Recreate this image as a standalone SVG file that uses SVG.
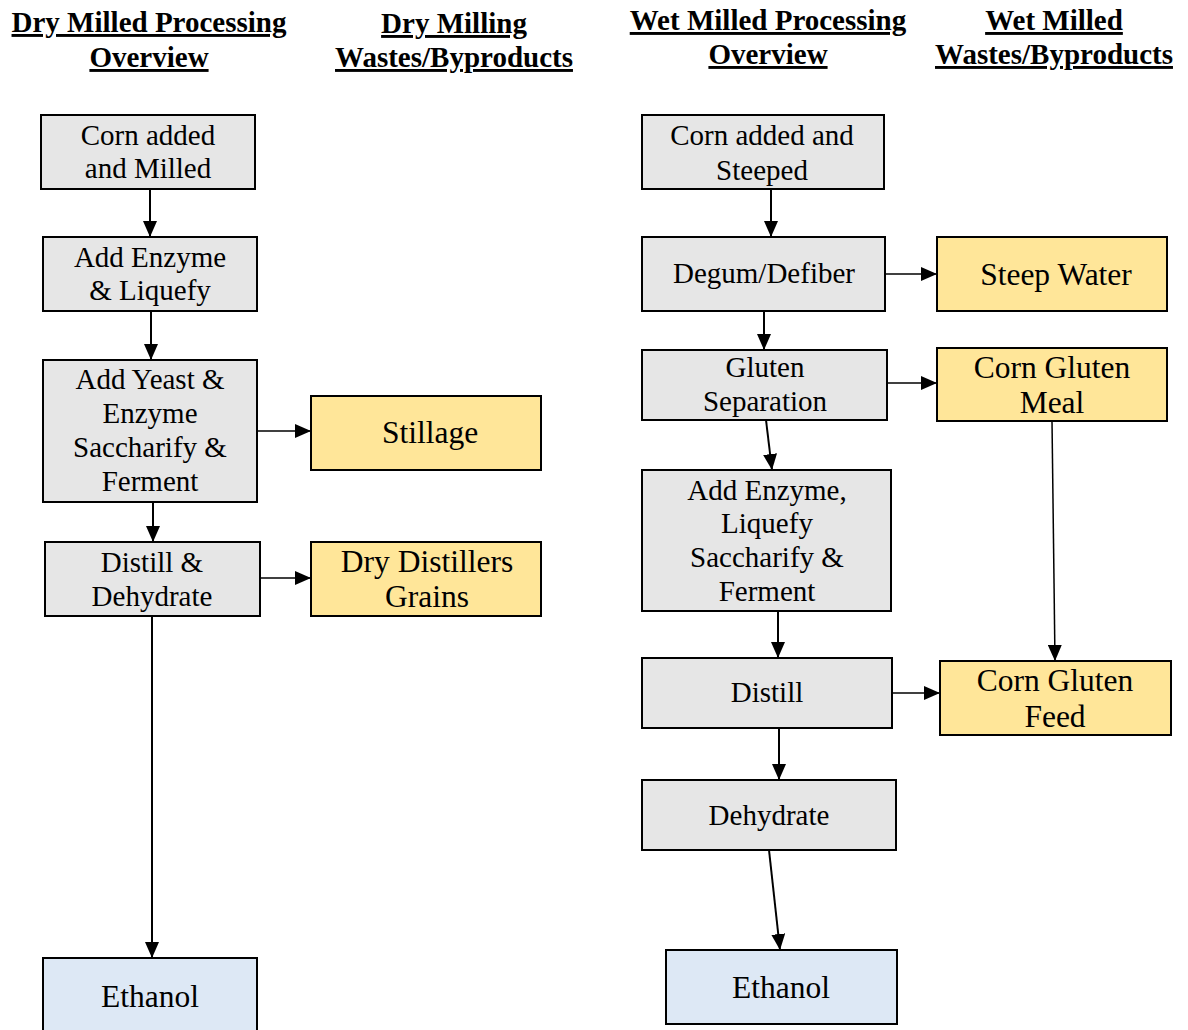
<svg xmlns="http://www.w3.org/2000/svg" width="1188" height="1030" viewBox="0 0 1188 1030">
<style>
  text { font-family: "Liberation Serif", "Times New Roman", serif; fill: #000; text-anchor: middle; }
  .h { font-size: 29px; font-weight: bold; text-decoration: underline; }
  .g { font-size: 29px; }
  .y { font-size: 31.5px; }
  .box { stroke: #000; stroke-width: 2; }
  .gray { fill: #e6e6e6; }
  .yel { fill: #ffe699; }
  .blue { fill: #dde8f5; }
  .c { stroke: #000; fill: none; marker-end: url(#ah); }
  .v { stroke-width: 2; }
  .hz { stroke-width: 1.5; }
</style>
<defs>
  <marker id="ah" markerUnits="userSpaceOnUse" markerWidth="16" markerHeight="14" refX="16" refY="7" orient="auto">
    <path d="M0,0 L16,7 L0,14 z" fill="#000"/>
  </marker>
</defs>
<rect width="1188" height="1030" fill="#fff"/>

<g id="headers">
  <text class="h" x="149" y="32">Dry Milled Processing</text>
  <text class="h" x="149" y="67">Overview</text>
  <text class="h" x="454" y="33">Dry Milling</text>
  <text class="h" x="454" y="67">Wastes/Byproducts</text>
  <text class="h" x="768" y="30">Wet Milled Processing</text>
  <text class="h" x="768" y="64">Overview</text>
  <text class="h" x="1054" y="30">Wet Milled</text>
  <text class="h" x="1054" y="64">Wastes/Byproducts</text>
</g>

<g id="connectors">
  <line class="c v" x1="150" y1="189" x2="150" y2="237"/>
  <line class="c v" x1="151" y1="311" x2="151" y2="360"/>
  <line class="c v" x1="153" y1="502" x2="153" y2="542"/>
  <line class="c v" x1="152" y1="616" x2="152" y2="958"/>
  <line class="c hz" x1="257" y1="431" x2="311" y2="431"/>
  <line class="c hz" x1="260" y1="578" x2="311" y2="578"/>

  <line class="c v" x1="771" y1="189" x2="771" y2="237"/>
  <line class="c v" x1="764" y1="311" x2="764" y2="350"/>
  <line class="c v" x1="766" y1="420" x2="772" y2="470"/>
  <line class="c v" x1="778" y1="611" x2="778" y2="658"/>
  <line class="c v" x1="779" y1="728" x2="779" y2="780"/>
  <line class="c v" x1="769" y1="850" x2="780" y2="950"/>
  <line class="c hz" x1="885" y1="274" x2="937" y2="274"/>
  <line class="c hz" x1="887" y1="383" x2="937" y2="383"/>
  <line class="c hz" x1="892" y1="693" x2="940" y2="693"/>
  <line class="c hz" x1="1052" y1="421" x2="1055" y2="661"/>
</g>

<g id="dry-corn">
  <rect class="box gray" x="41" y="115" width="214" height="74"/>
  <text class="g" x="148" y="145">Corn added</text>
  <text class="g" x="148" y="178">and Milled</text>
</g>
<g id="dry-enzyme">
  <rect class="box gray" x="43" y="237" width="214" height="74"/>
  <text class="g" x="150" y="267">Add Enzyme</text>
  <text class="g" x="150" y="300">&amp; Liquefy</text>
</g>
<g id="dry-yeast">
  <rect class="box gray" x="43" y="360" width="214" height="142"/>
  <text class="g" x="150" y="389">Add Yeast &amp;</text>
  <text class="g" x="150" y="423">Enzyme</text>
  <text class="g" x="150" y="457">Saccharify &amp;</text>
  <text class="g" x="150" y="491">Ferment</text>
</g>
<g id="dry-distill">
  <rect class="box gray" x="45" y="542" width="215" height="74"/>
  <text class="g" x="152" y="572">Distill &amp;</text>
  <text class="g" x="152" y="606">Dehydrate</text>
</g>
<g id="dry-ethanol">
  <rect class="box blue" x="43" y="958" width="214" height="80"/>
  <text class="y" x="150" y="1007">Ethanol</text>
</g>
<g id="stillage">
  <rect class="box yel" x="311" y="396" width="230" height="74"/>
  <text class="y" x="430" y="443">Stillage</text>
</g>
<g id="ddg">
  <rect class="box yel" x="311" y="542" width="230" height="74"/>
  <text class="y" x="427" y="572">Dry Distillers</text>
  <text class="y" x="427" y="607">Grains</text>
</g>

<g id="wet-corn">
  <rect class="box gray" x="642" y="115" width="242" height="74"/>
  <text class="g" x="762" y="145">Corn added and</text>
  <text class="g" x="762" y="180">Steeped</text>
</g>
<g id="wet-degum">
  <rect class="box gray" x="642" y="237" width="243" height="74"/>
  <text class="g" x="764" y="283">Degum/Defiber</text>
</g>
<g id="wet-gluten">
  <rect class="box gray" x="642" y="350" width="245" height="70"/>
  <text class="g" x="765" y="377">Gluten</text>
  <text class="g" x="765" y="411">Separation</text>
</g>
<g id="wet-enzyme">
  <rect class="box gray" x="642" y="470" width="249" height="141"/>
  <text class="g" x="767" y="500">Add Enzyme,</text>
  <text class="g" x="767" y="533">Liquefy</text>
  <text class="g" x="767" y="567">Saccharify &amp;</text>
  <text class="g" x="767" y="601">Ferment</text>
</g>
<g id="wet-distill">
  <rect class="box gray" x="642" y="658" width="250" height="70"/>
  <text class="g" x="767" y="702">Distill</text>
</g>
<g id="wet-dehydrate">
  <rect class="box gray" x="642" y="780" width="254" height="70"/>
  <text class="g" x="769" y="825">Dehydrate</text>
</g>
<g id="wet-ethanol">
  <rect class="box blue" x="666" y="950" width="231" height="74"/>
  <text class="y" x="781" y="998">Ethanol</text>
</g>
<g id="steep-water">
  <rect class="box yel" x="937" y="237" width="230" height="74"/>
  <text class="y" x="1056" y="285">Steep Water</text>
</g>
<g id="corn-gluten-meal">
  <rect class="box yel" x="937" y="348" width="230" height="73"/>
  <text class="y" x="1052" y="378">Corn Gluten</text>
  <text class="y" x="1052" y="413">Meal</text>
</g>
<g id="corn-gluten-feed">
  <rect class="box yel" x="940" y="661" width="231" height="74"/>
  <text class="y" x="1055" y="691">Corn Gluten</text>
  <text class="y" x="1055" y="727">Feed</text>
</g>
</svg>
